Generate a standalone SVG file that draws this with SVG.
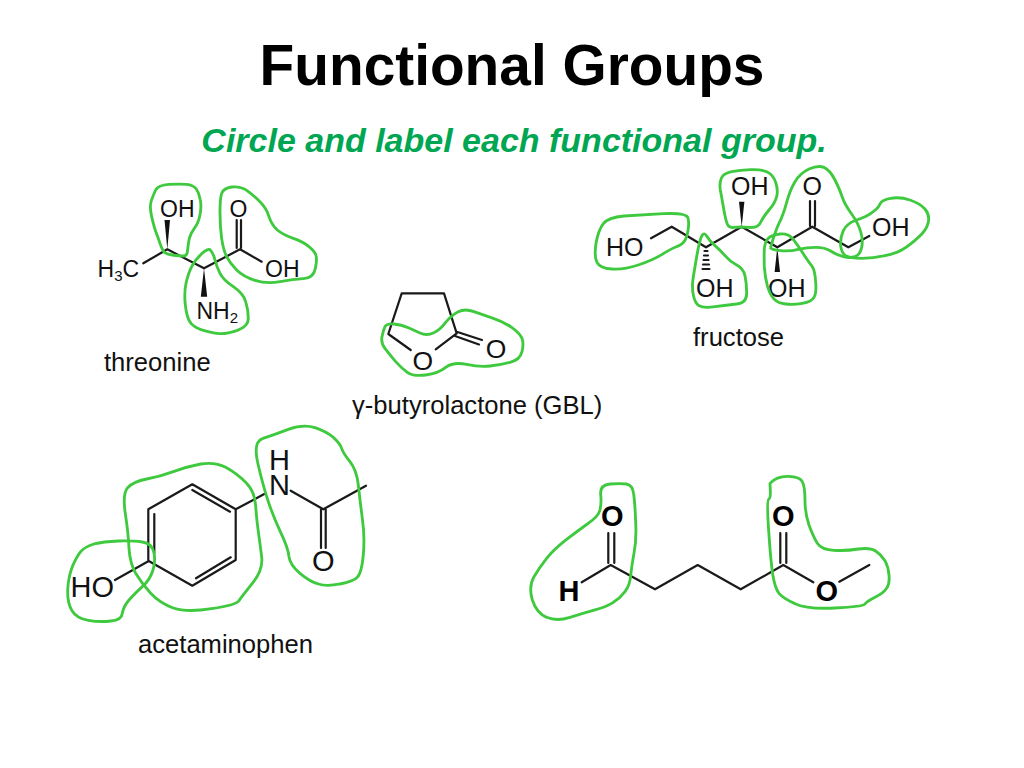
<svg xmlns="http://www.w3.org/2000/svg" width="1024" height="768" viewBox="0 0 1024 768">
<style>
text{font-family:"Liberation Sans",Arial,sans-serif;fill:#111}
.title{font-size:56.8px;font-weight:bold;fill:#000;text-anchor:middle}
.sub{font-size:34px;font-weight:bold;font-style:italic;fill:#00a651;text-anchor:middle}
.name{font-size:25.6px;fill:#111}
.a23{font-size:23px}.a25{font-size:25px}.a27{font-size:26.5px}.a29{font-size:29px}
.bold{font-size:29px;font-weight:bold;fill:#000}
.m{text-anchor:middle}
.bond{fill:none;stroke:#1a1a1a;stroke-width:2.2;stroke-linecap:round;stroke-linejoin:round}
.wedge{fill:#111;stroke:none}
.blob{fill:none;stroke:#3ec93e;stroke-width:8.5;stroke-linejoin:round}
</style>
<rect width="1024" height="768" fill="#fff"/>
<text class="title" x="512" y="85">Functional Groups</text>
<text class="sub" x="514" y="152">Circle and label each functional group.</text>

<g id="threonine">
<path class="bond" d="M143.3,263.3L167.3,249.3L204,268.3L240,249.3L261.7,261.7M236.7,248V220M241,248V220"/>
<path class="wedge" d="M167.3,249.3L164.5,220H170Z M204,268.3L200.8,296.7H207.2Z"/>
<text class="a23" x="160" y="216.5">OH</text>
<text class="a23 m" x="238.5" y="216.5">O</text>
<text class="a23" x="97.5" y="277">H<tspan font-size="15" dy="4">3</tspan><tspan dy="-4">C</tspan></text>
<text class="a23" x="265" y="277">OH</text>
<text class="a23" x="196.5" y="318.5">NH<tspan font-size="15" dy="4">2</tspan></text>
<text class="name" x="104" y="371">threonine</text>
<g transform="translate(80,170) scale(.3333)">
<path class="blob" d="M267,43Q300,42 320,43Q340,45 349,57Q358,70 361,90Q365,110 360,135Q355,160 343,175Q332,190 328,205Q325,220 323,239Q322,258 311,258Q300,258 277,255Q255,252 250,243Q245,235 240,220Q235,205 228,187Q222,170 215,140Q208,110 214,92Q220,75 227,60Q235,45 267,43Z"/>
<path class="blob" d="M425,70Q430,55 455,51Q480,48 500,61Q520,75 540,95Q560,115 567,140Q575,165 592,180Q610,195 640,205Q670,215 687,230Q705,245 708,256Q712,268 706,296Q700,325 670,326Q640,328 600,335Q560,342 525,331Q490,320 470,300Q450,280 440,260Q430,240 425,205Q420,170 420,127Q420,85 425,70Z"/>
<path class="blob" d="M392,241Q400,250 405,270Q410,290 420,310Q430,330 460,350Q490,370 497,395Q505,420 505,445Q505,470 472,481Q440,492 420,491Q400,490 370,481Q340,472 330,456Q320,440 316,405Q312,370 318,340Q325,310 335,290Q345,270 365,251Q385,233 392,241Z"/>
</g>
</g>

<g id="fructose">
<path class="bond" d="M651,238.3L671.7,226.7L706,247.3L741.7,226.7L777.3,247.3L812.3,226.7L848.3,247.3L869.3,236M810,226V201M815,226V201"/>
<path class="wedge" d="M741.7,226.7L739,201.7H744.4Z M777.3,247.3L774.6,272H780Z"/>
<path class="bond" d="M704.5,251H707.5M704,255.5H708M703.5,260H708.5M703,264.5H709M702.5,269H709.5" stroke-width="1.5"/>
<text class="a25" x="606" y="256">HO</text>
<text class="a25" x="696" y="297">OH</text>
<text class="a25" x="731" y="195">OH</text>
<text class="a25 m" x="812.3" y="195">O</text>
<text class="a25" x="872" y="236">OH</text>
<text class="a25" x="768" y="297">OH</text>
<text class="name" x="693" y="346">fructose</text>
<g transform="translate(580,160) scale(.3333)">
<path class="blob" d="M132,168Q180,165 250,161Q320,158 324,174Q328,190 324,212Q320,235 312,245Q305,255 287,261Q270,268 245,284Q220,300 175,315Q130,330 95,327Q60,325 51,307Q42,290 48,250Q55,210 70,191Q85,172 132,168Z"/>
<path class="blob" d="M380,228Q390,245 405,257Q420,270 435,287Q450,305 470,315Q490,325 495,347Q500,370 500,400Q500,430 470,432Q440,435 405,440Q370,445 357,437Q345,430 340,405Q335,380 340,350Q345,320 350,290Q355,260 362,236Q370,212 380,228Z"/>
<path class="blob" d="M455,35Q480,30 512,29Q545,28 562,36Q580,45 587,67Q595,90 590,110Q585,130 567,150Q550,170 542,187Q535,205 507,202Q480,200 462,202Q445,205 440,187Q435,170 430,140Q425,110 421,90Q418,70 424,55Q430,40 455,35Z"/>
<path class="blob" d="M565,235Q575,225 600,222Q625,220 637,235Q650,250 667,277Q685,305 695,317Q705,330 707,365Q710,400 702,412Q695,425 667,430Q640,435 617,432Q595,430 582,417Q570,405 562,377Q555,350 553,320Q552,290 553,267Q555,245 565,235Z"/>
<path class="blob" d="M572,262Q585,215 597,190Q610,165 620,127Q630,90 645,65Q660,40 687,27Q715,15 732,22Q750,30 765,60Q780,90 787,112Q795,135 815,162Q835,190 842,215Q850,240 845,262Q840,285 825,290Q810,295 790,290Q770,285 752,273Q735,262 707,262Q680,262 655,268Q630,275 602,272Q575,270 570,262"/>
<path class="blob" d="M790,212Q800,190 830,180Q860,170 877,157Q895,145 900,132Q905,120 932,115Q960,110 990,120Q1020,130 1035,147Q1050,165 1045,187Q1040,210 1015,232Q990,255 970,267Q950,280 915,287Q880,295 845,295Q810,295 797,287Q785,280 782,257Q780,235 790,212Z"/>
</g>
</g>

<g id="gbl">
<path class="bond" d="M410.7,350L388.3,334L401.7,293.3H444L456.7,333.3L435.7,349.3M456.7,331.7L482,340M455,336L479,344.5"/>
<text class="a27 m" x="422.7" y="370">O</text>
<text class="a27 m" x="496" y="358">O</text>
<text class="name" x="352" y="414">γ-butyrolactone (GBL)</text>
<g transform="translate(370,280) scale(.3333)">
<path class="blob" d="M72,132Q95,135 112,142Q130,150 150,159Q170,168 190,159Q210,150 227,127Q245,105 265,95Q285,85 312,95Q340,105 370,115Q400,125 425,142Q450,160 456,175Q462,190 456,215Q450,240 420,247Q390,255 360,258Q330,262 290,253Q250,245 227,262Q205,280 167,285Q130,290 112,277Q95,265 77,245Q60,225 46,207Q32,190 36,170Q40,150 45,140Q50,130 72,132Z"/>
</g>
</g>

<g id="acetaminophen">
<path class="bond" d="M192.3,484.3L235.7,509.3V560L192.3,585.7L148.3,560.7V509.3ZM154.3,514V553.3M192.3,490L230,511.7M196,578.3L230.7,557.3M235.7,509.3L265.7,493.3M290.7,490.7L323.3,509.3L366,485.7M321,509V548M325.7,509V548M148.3,561.3L115,580"/>
<text class="a29" x="70.5" y="597">HO</text>
<text class="a29 m"><tspan x="279.5" y="470">H</tspan><tspan x="279.5" y="495">N</tspan></text>
<text class="a29 m" x="323.3" y="571">O</text>
<text class="name" x="138" y="653">acetaminophen</text>
<g transform="translate(60,420) scale(.3333)">
<path class="blob" d="M102,372Q130,365 175,363Q220,362 247,366Q275,370 281,395Q288,420 279,450Q270,480 247,500Q225,520 207,540Q190,560 187,580Q185,600 152,603Q120,607 85,601Q50,595 36,572Q22,550 23,510Q25,470 37,440Q50,410 62,395Q75,380 102,372Z"/>
<path class="blob" d="M203,203Q220,185 260,177Q300,170 340,155Q380,140 422,132Q465,125 497,142Q530,160 557,187Q585,215 587,257Q590,300 595,335Q600,370 605,410Q610,450 577,490Q545,530 537,542Q530,555 455,566Q380,578 340,564Q300,550 272,520Q245,490 227,460Q210,430 207,385Q205,340 196,281Q187,222 203,203Z"/>
<path class="blob" d="M609,55Q640,45 685,28Q730,12 765,23Q800,35 820,52Q840,70 845,85Q850,100 870,125Q890,150 895,195Q900,240 907,295Q915,350 910,405Q905,460 892,472Q880,485 840,492Q800,500 775,492Q750,485 720,460Q690,435 687,410Q685,385 662,337Q640,290 625,245Q610,200 594,132Q578,65 609,55Z"/>
</g>
</g>

<g id="ester">
<path class="bond" d="M581.7,582.3L610.7,565L655,589.3L697.7,565L740.7,589.3L783.3,565L813.3,582.3M839.3,581.7L869.3,565M608.3,563V533M614.3,563V533M780.3,563V533M786.3,563V533"/>
<text class="bold m" x="612.3" y="525.5">O</text>
<text class="bold m" x="783.3" y="525.5">O</text>
<text class="bold m" x="569" y="600.5">H</text>
<text class="bold m" x="826.7" y="600.5">O</text>
<g transform="translate(520,470) scale(.3333)">
<path class="blob" d="M270,42Q300,40 319,42Q338,45 341,72Q345,100 347,155Q350,210 342,250Q335,290 332,317Q330,345 315,365Q300,385 280,397Q260,410 225,420Q190,430 150,442Q110,455 80,442Q50,430 37,390Q25,350 42,320Q60,290 80,265Q100,240 135,212Q170,185 202,162Q235,140 240,120Q245,100 242,72Q240,45 270,42Z"/>
<path class="blob" d="M750,40Q770,18 805,19Q840,20 847,35Q855,50 855,90Q855,130 867,165Q880,200 892,220Q905,240 942,241Q980,243 1015,237Q1050,232 1067,243Q1085,255 1095,272Q1105,290 1107,315Q1110,340 1100,355Q1090,370 1065,382Q1040,395 1035,402Q1030,410 945,414Q860,418 825,401Q790,385 777,370Q765,355 758,312Q752,270 746,181Q740,92 746,88Q752,85 751,62Q750,40 750,40Z"/>
</g>
</g>
</svg>
